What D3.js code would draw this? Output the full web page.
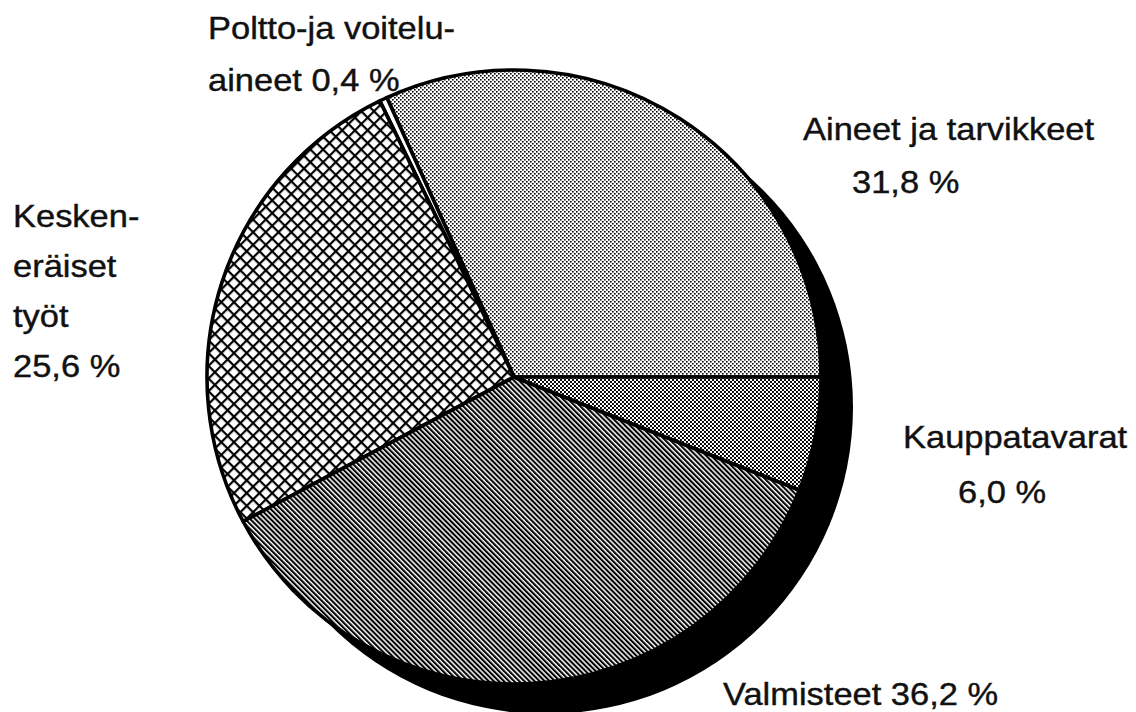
<!DOCTYPE html>
<html>
<head>
<meta charset="utf-8">
<script src="https://cdn.jsdelivr.net/npm/d3@7/dist/d3.min.js"></script>
<style>
  html, body { margin: 0; padding: 0; background: #fff; }
  svg { display: block; }
  text { font-family: "Liberation Sans", Arial, Helvetica, sans-serif; fill: #111; }
</style>
</head>
<body>
<svg id="chart" width="1136" height="712"></svg>
<script>
// ---- data ----
const categories = ["Aineet ja tarvikkeet", "Poltto- ja voiteluaineet", "Keskeneräiset työt", "Valmisteet", "Kauppatavarat"];
const values = [31.8, 0.4, 25.6, 36.2, 6.0];
const patterns = ["dotsLight", "plain", "crossHatch", "diagLines", "dotsDense"];
const labelLines = [
  ["Aineet ja tarvikkeet", "31,8 %"],
  ["Poltto-ja voitelu-", "aineet 0,4 %"],
  ["Kesken-", "eräiset", "työt", "25,6 %"],
  ["Valmisteet 36,2 %"],
  ["Kauppatavarat", "6,0 %"]
];

// ---- layout (not data) ----
const W = 1136, H = 712;
const cx = 514, cy = 377, R = 307;
const shadowDx = 32, shadowDy = 30;
const labelLayout = [
  { x: [803, 852], y: [140, 193] },
  { x: [208, 208], y: [39, 91] },
  { x: [13, 13, 13, 13], y: [227, 277, 327, 377] },
  { x: [723], y: [705] },
  { x: [903, 958], y: [448, 503] }
];

const svg = d3.select("#chart");
const defs = svg.append("defs");

// light dot pattern
const pL = defs.append("pattern").attr("id", "dotsLight")
  .attr("patternUnits", "userSpaceOnUse").attr("width", 4).attr("height", 4);
pL.append("rect").attr("width", 4).attr("height", 4).attr("fill", "#fff");
pL.append("rect").attr("x", 0).attr("y", 0).attr("width", 1.6).attr("height", 1.6).attr("fill", "#000");
pL.append("rect").attr("x", 2).attr("y", 2).attr("width", 1.6).attr("height", 1.6).attr("fill", "#000");

// dense dot pattern
const pD = defs.append("pattern").attr("id", "dotsDense")
  .attr("patternUnits", "userSpaceOnUse").attr("width", 4).attr("height", 4);
pD.append("rect").attr("width", 4).attr("height", 4).attr("fill", "#fff");
pD.append("rect").attr("x", 0).attr("y", 0).attr("width", 1.95).attr("height", 1.95).attr("fill", "#000");
pD.append("rect").attr("x", 2).attr("y", 2).attr("width", 1.95).attr("height", 1.95).attr("fill", "#000");

// diagonal lines "\"
const pG = defs.append("pattern").attr("id", "diagLines")
  .attr("patternUnits", "userSpaceOnUse").attr("width", 3.6).attr("height", 10)
  .attr("patternTransform", "rotate(-45)");
pG.append("rect").attr("width", 3.6).attr("height", 10).attr("fill", "#fff");
pG.append("rect").attr("width", 2.1).attr("height", 10).attr("fill", "#000");

// crosshatch
const pX = defs.append("pattern").attr("id", "crossHatch")
  .attr("patternUnits", "userSpaceOnUse").attr("width", 9).attr("height", 9)
  .attr("patternTransform", "rotate(45)");
pX.append("rect").attr("width", 9).attr("height", 9).attr("fill", "#fff");
pX.append("rect").attr("width", 9).attr("height", 2.2).attr("fill", "#000");
pX.append("rect").attr("width", 2.2).attr("height", 9).attr("fill", "#000");

const fillFor = p => p === "plain" ? "#fff" : `url(#${p})`;

// shadow
svg.append("circle")
  .attr("cx", cx + shadowDx).attr("cy", cy + shadowDy).attr("r", R)
  .attr("fill", "#000");

// pie: counterclockwise starting at 3 o'clock
const pie = d3.pie().sort(null).value(d => d)
  .startAngle(Math.PI / 2).endAngle(Math.PI / 2 - 2 * Math.PI);
const arcs = pie(values);
const arc = d3.arc().innerRadius(0).outerRadius(R);

const g = svg.append("g").attr("transform", `translate(${cx},${cy})`);
g.selectAll("path.slice").data(arcs).join("path")
  .attr("class", "slice")
  .attr("d", arc)
  .attr("fill", (d, i) => fillFor(patterns[i]))
  .attr("stroke", "#000")
  .attr("stroke-width", 3.6)
  .attr("stroke-linejoin", "round");

// labels
categories.forEach((c, i) => {
  const lay = labelLayout[i];
  labelLines[i].forEach((line, j) => {
    svg.append("g")
      .attr("transform", `translate(${lay.x[j]},${lay.y[j]}) scale(1.13,1)`)
      .append("text")
      .attr("x", 0).attr("y", 0)
      .attr("font-size", 30.5)
      .attr("stroke", "#111").attr("stroke-width", 0.4)
      .text(line);
  });
});
</script>
</body>
</html>
